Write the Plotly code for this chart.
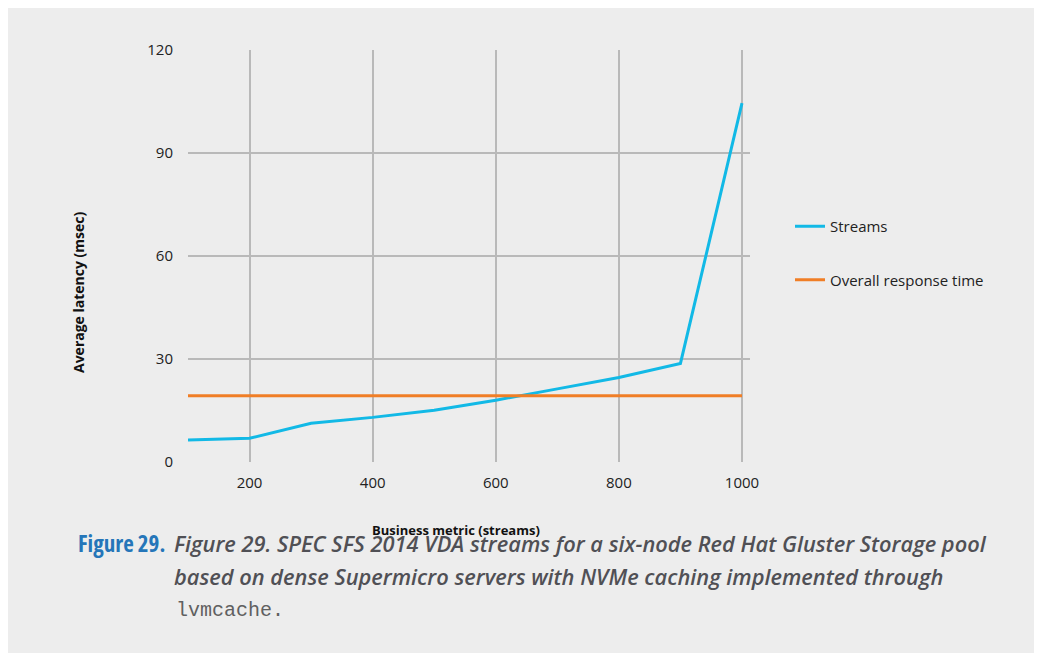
import plotly.graph_objects as go

streams_x = [100, 200, 300, 400, 500, 600, 700, 800, 900, 1000]
streams_latency = [6.4, 6.9, 11.3, 13.0, 15.1, 18.0, 21.3, 24.6, 28.7, 104.5]
overall_response = [19.3] * len(streams_x)

x_ticks = [200, 400, 600, 800, 1000]
y_ticks = [0, 30, 60, 90, 120]

# page offset from default body margin
OFF = 8
W, H = 1042 - OFF, 653 - OFF
# plot area in page pixels
L, R, T, B = 188, 750, 50, 462


def px(x):
    return (x - L) / (R - L)


def py(y):
    return (B - y) / (B - T)


fig = go.Figure()
fig.add_trace(go.Scatter(x=streams_x, y=streams_latency, mode="lines", name="Streams",
                         line=dict(color="#12B9E6", width=3), legendgroup="a"))
fig.add_trace(go.Scatter(x=streams_x, y=overall_response, mode="lines", name="Overall response time",
                         line=dict(color="#F07E26", width=3), legendgroup="b"))

grid = "#B9B9B9"
tick_font = dict(family="Open Sans", size=15, color="#222")
fig.update_xaxes(range=[100, 1013], tickvals=x_ticks, showgrid=True, gridcolor=grid, gridwidth=1.5,
                 zeroline=False, showline=False, ticks="", ticklabelstandoff=10, tickfont=tick_font)
fig.update_yaxes(range=[0, 120], tickvals=y_ticks, showgrid=True, gridcolor=grid, gridwidth=1.5,
                 zeroline=False, showline=False, ticks="", ticklabelstandoff=14, tickfont=tick_font)

cond = "font-stretch:condensed"
cap_font = dict(family="Open Sans", size=21.8, color="#505055", weight=600, style="italic")

annotations = [
    dict(text="<b>Average latency (msec)</b>", xref="paper", yref="paper", x=px(78), y=py(292),
         xanchor="center", yanchor="middle",
         textangle=-90, showarrow=False, font=dict(family="Open Sans", size=14, color="#111")),
    dict(text="<b>Business metric (streams)</b>", xref="paper", yref="paper",
         x=px(456), y=py(530), xanchor="center", yanchor="middle",
         showarrow=False, font=dict(family="Open Sans", size=13, color="#111")),
    dict(text=f"<span style='{cond}'><b>Figure 29.</b></span>", xref="paper", yref="paper", x=px(76), y=py(543),
         xanchor="left", yanchor="middle",
         showarrow=False, font=dict(family="Open Sans", size=23, color="#2576B9")),
    dict(text="Figure 29. SPEC SFS 2014 VDA streams for a six-node Red Hat Gluster Storage pool",
         xref="paper", yref="paper", x=px(172), y=py(543), xanchor="left", yanchor="middle", showarrow=False,
         font=cap_font),
    dict(text="based on dense Supermicro servers with NVMe caching implemented through",
         xref="paper", yref="paper", x=px(172), y=py(576), xanchor="left", yanchor="middle", showarrow=False,
         font=cap_font),
    dict(text="lvmcache.",
         xref="paper", yref="paper", x=px(174), y=py(610), xanchor="left", yanchor="middle", showarrow=False,
         font=dict(family="Liberation Mono", size=20, color="#606060")),
]

fig.update_layout(
    width=W, height=H,
    margin=dict(l=L - OFF, r=(W + OFF) - R, t=T - OFF, b=(H + OFF) - B, pad=0),
    paper_bgcolor="#EDEDED", plot_bgcolor="#EDEDED",
    annotations=annotations,
    showlegend=True,
    legend=dict(x=px(790), y=py(210), xanchor="left", yanchor="top", bgcolor="rgba(0,0,0,0)",
                font=dict(family="Open Sans", size=15, color="#222"), tracegroupgap=31,
                itemwidth=30),
)

fig.write_html("out.html")
